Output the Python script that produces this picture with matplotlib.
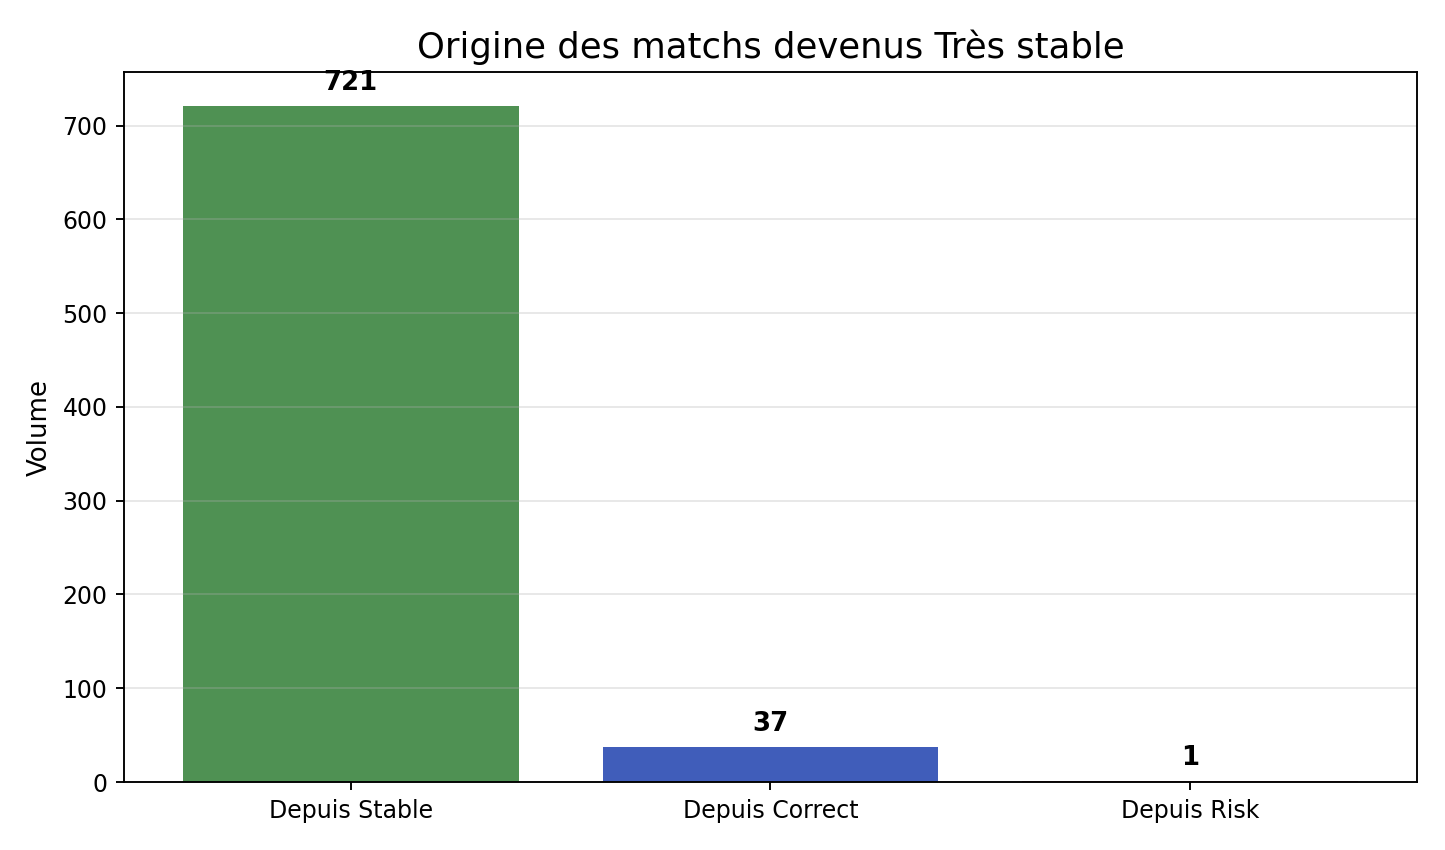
import numpy as np
import matplotlib.pyplot as plt

categories = ["Depuis Stable", "Depuis Correct", "Depuis Risk"]
volumes = [721, 37, 1]
bar_colors = ["#4f9153", "#405dba", "#d04a3f"]

title = "Origine des matchs devenus Très stable"
ylabel = "Volume"


def plot_origins():
    fig = plt.figure(figsize=(8.5, 5), dpi=170)
    ax = fig.add_axes([124 / 1445, 68 / 850, (1417 - 124) / 1445, (782 - 72) / 850])
    x = np.arange(len(categories))
    ax.bar(x, volumes, width=0.8, color=bar_colors)
    for xi, v in zip(x, volumes):
        ax.text(xi, v + max(volumes) * 0.015, str(v), ha="center", va="bottom",
                fontsize=11, fontweight="bold")
    ax.set_xticks(x)
    ax.set_xticklabels(categories)
    ax.set_ylabel(ylabel, fontsize=11)
    ax.set_title(title, fontsize=15)
    ax.grid(axis="y", alpha=0.3)
    fig.savefig("out.png", dpi=170)


if __name__ == "__main__":
    plot_origins()
